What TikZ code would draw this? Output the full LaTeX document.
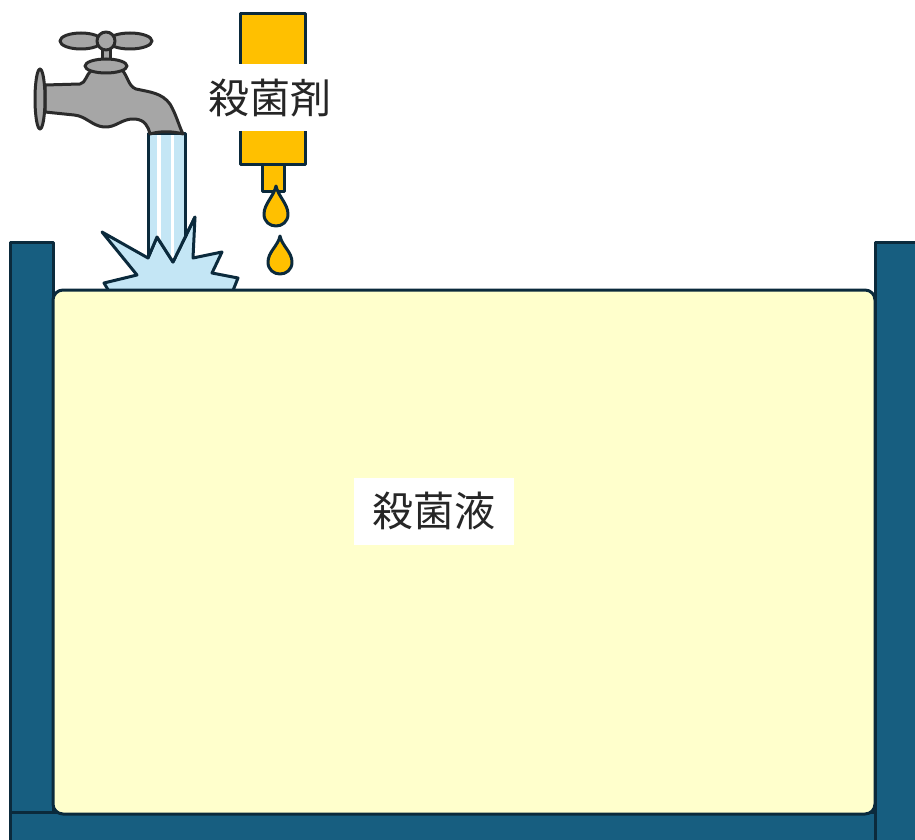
\documentclass[tikz,border=0pt]{standalone}
\usepackage{fontspec}
\newfontfamily\jpfont{Noto Sans CJK JP}
\definecolor{tankBlue}{HTML}{175E80}
\definecolor{tankEdge}{HTML}{0B2A3C}
\definecolor{liquidYellow}{HTML}{FFFFCC}
\definecolor{bottleGold}{HTML}{FFC000}
\definecolor{waterBlue}{HTML}{C4E6F5}
\definecolor{tapGray}{HTML}{A6A6A6}
\definecolor{tapEdge}{HTML}{2B2B2B}
\usetikzlibrary{positioning}

\begin{document}
\begin{tikzpicture}[x=1pt, y=-1pt, line join=round,
  edge/.style={draw=tankEdge, line width=3pt},
  tap/.style={fill=tapGray, draw=tapEdge, line width=3pt},
  textbox/.style={fill=white, font=\jpfont\fontsize{41}{41}\selectfont, text=black!85,
    inner sep=0pt, minimum width=160pt, minimum height=67pt}]
\clip (0,0) rectangle (915,840);
% splash under the tap
\draw[edge, fill=waterBlue] (110,293) -- (104,283) -- (137,275) -- (102,232) -- (148,258)
  -- (157,237) -- (173,262) -- (195,217) -- (193,258) -- (222,252) -- (212,273)
  -- (238,278) -- (232,293) -- cycle;
% water stream
\begin{scope}
  \clip (148,133) -- (185,133) -- (185,237.5) -- (173,262) -- (157,237) -- (148,258) -- cycle;
  \fill[waterBlue] (140,130) rectangle (190,265);
  \draw[white, line width=3.2pt] (159,130) -- (159,265);
  \draw[white, line width=3.2pt] (172.5,130) -- (172.5,265);
\end{scope}
\draw[edge] (148,258) -- (148,134) -- (185,134) -- (185,237.5);
\draw[edge] (148,258) -- (157,237) -- (173,262) -- (195,217);
% tap
\draw[tap] (102,46) rectangle (110,62);
\draw[tap] (81,41) ellipse [x radius=21, y radius=8];
\draw[tap] (130,41) ellipse [x radius=22, y radius=8];
\draw[tap] (106,41) circle [radius=9];
\draw[tap] (45,85) -- (80,84) .. controls (86,83) and (86,74) .. (92,70) -- (122,70)
  .. controls (128,76) and (128,86) .. (136,89) .. controls (150,92) and (162,93) .. (170,104)
  .. controls (176,114) and (179,126) .. (183,134) .. controls (172,131) and (160,131) .. (150,134)
  .. controls (148,126) and (145,120) .. (135,119) .. controls (122,118) and (116,128) .. (104,127)
  .. controls (92,126) and (86,116) .. (74,115) -- (45,112) -- cycle;
\draw[tap] (106,66) ellipse [x radius=21, y radius=7];
\draw[tap] (40,99) ellipse [x radius=5, y radius=30];
% bottle of agent
\draw[edge, fill=bottleGold] (240,14) rectangle (305,164);
\draw[edge, fill=bottleGold] (262,164) rectangle (284,191);
\node[textbox, minimum width=130pt] (agent) at (270,98) {殺菌剤};
% drops
\foreach \x/\t/\c in {276/186/214, 280/236/262}
  \draw[edge, fill=bottleGold] (\x,\t) .. controls (\x+2,\t+10) and (\x+12,\c-10) .. (\x+12,\c)
    .. controls (\x+12,\c+16) and (\x-12,\c+16) .. (\x-12,\c)
    .. controls (\x-12,\c-10) and (\x-2,\t+10) .. cycle;
% tank
\draw[edge, fill=tankBlue] (10,812) rectangle (880,850);
\draw[edge, fill=tankBlue] (10,242) rectangle (53,812);
\draw[edge, fill=tankBlue] (875,242) rectangle (925,850);
\draw[edge, fill=liquidYellow, rounded corners=10pt] (53,290) rectangle (875,814);
\node[textbox] (liquid) at (434,511) {殺菌液};
\end{tikzpicture}
\end{document}
